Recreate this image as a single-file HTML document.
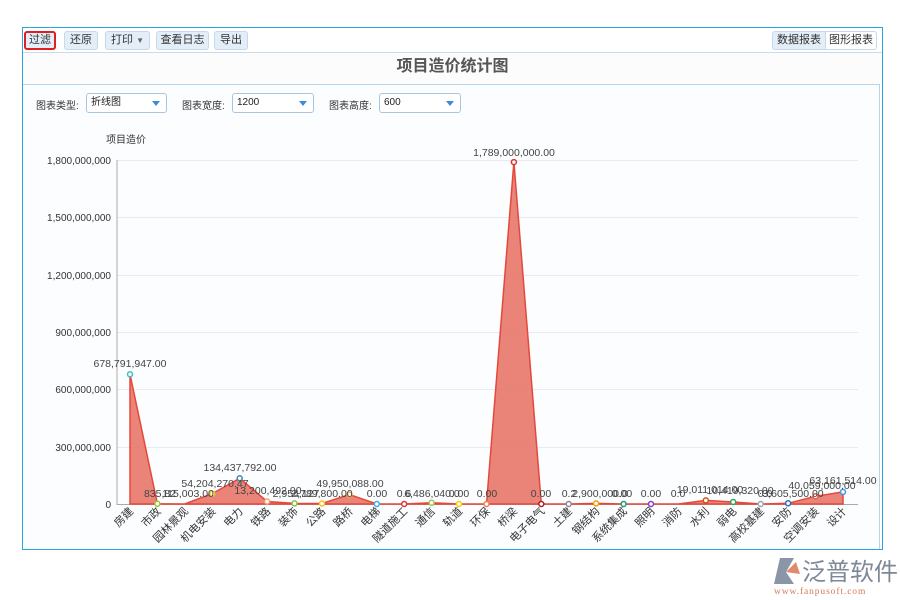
<!DOCTYPE html>
<html><head><meta charset="utf-8"><style>
*{margin:0;padding:0;box-sizing:border-box}
body{width:900px;height:600px;background:#fff;position:relative;font-family:"Liberation Sans","Noto Sans CJK SC",sans-serif;overflow:hidden}
.frame{position:absolute;left:22px;top:27px;width:861px;height:523px;border:1px solid #29a3dc;background:#fff}
.btn{position:absolute;top:31px;height:19px;border:1px solid #c4d9ea;background:#e3eef8;border-radius:3px;font-size:11px;color:#333;text-align:center;line-height:17px}
.tb{position:absolute;left:23px;top:52px;width:859px;height:1px;background:#c7dbea}
.title{position:absolute;left:23px;top:53px;width:859px;height:31px;text-align:center;font-size:16px;font-weight:bold;color:#555;line-height:28px;background:#fcfcfc}
.panel{position:absolute;left:23px;top:84px;width:857px;height:465px;border-top:1px solid #b8d4ea;border-right:1px solid #b8d4ea;background:#fcfdfe}
.lbl{position:absolute;top:97px;font-size:10px;color:#333}
.sel{position:absolute;top:93px;height:20px;border:1px solid #a9c6e0;border-radius:3px;background:#fff;font-size:10px;line-height:18px;padding-left:4px;color:#222}
.sel:after{content:"";position:absolute;right:6px;top:7px;border-left:4px solid transparent;border-right:4px solid transparent;border-top:5px solid #3c8dd6}
</style></head><body>
<div class="frame"></div>
<div class="btn" style="left:24px;width:32px;border:2px solid #e02020;background:#e3eef8;line-height:15px">过滤</div>
<div class="btn" style="left:64px;width:34px">还原</div>
<div class="btn" style="left:105px;width:45px">打印 <span style="font-size:8px;color:#666">▼</span></div>
<div class="btn" style="left:156px;width:53px">查看日志</div>
<div class="btn" style="left:214px;width:34px">导出</div>
<div class="btn" style="left:772px;width:54px;border-radius:3px 0 0 3px">数据报表</div>
<div class="btn" style="left:825px;width:52px;background:#fff;border-radius:0 3px 3px 0">图形报表</div>
<div class="tb"></div>
<div class="title">项目造价统计图</div>
<div class="panel"></div>
<div class="lbl" style="left:36px">图表类型:</div>
<div class="sel" style="left:86px;width:81px">折线图</div>
<div class="lbl" style="left:182px">图表宽度:</div>
<div class="sel" style="left:232px;width:82px">1200</div>
<div class="lbl" style="left:329px">图表高度:</div>
<div class="sel" style="left:379px;width:82px">600</div>
<svg style="position:absolute;left:0;top:0" width="900" height="600" font-family="Liberation Sans,Noto Sans CJK SC,sans-serif">
<g stroke="#e6eaf2" stroke-width="1">
<line x1="117" y1="160.5" x2="858" y2="160.5"/><line x1="117" y1="217.5" x2="858" y2="217.5"/><line x1="117" y1="275.5" x2="858" y2="275.5"/><line x1="117" y1="332.5" x2="858" y2="332.5"/><line x1="117" y1="389.5" x2="858" y2="389.5"/><line x1="117" y1="447.5" x2="858" y2="447.5"/>
</g>
<line x1="117" y1="160" x2="117" y2="505" stroke="#aaa"/>
<line x1="117" y1="504.5" x2="858" y2="504.5" stroke="#aaa"/>
<text x="106" y="143" font-size="10" fill="#333">项目造价</text>
<g font-size="10" fill="#333" text-anchor="end">
<text x="111" y="164">1,800,000,000</text><text x="111" y="221">1,500,000,000</text><text x="111" y="279">1,200,000,000</text><text x="111" y="336">900,000,000</text><text x="111" y="393">600,000,000</text><text x="111" y="451">300,000,000</text><text x="111" y="508">0</text>
</g>
<polygon fill="#e8776a" fill-opacity="0.9" stroke="#e5483a" stroke-width="1.5" points="130,504 130,374.3 157.4,503.8 184.8,504 212.3,493.6 239.7,478.3 267.1,501.5 294.5,503.4 322,503.5 349.4,494.5 376.8,504 404.2,504 431.6,502.8 459,504 486.5,504 513.9,162.1 541.3,504 568.7,504 596.1,503.4 623.6,504 651,504 678.4,504 705.8,500.4 733.2,502 760.7,504 788.1,503.3 815.5,496.3 843,491.9 843,504"/>
<g stroke-width="1.5" fill="#fff">
<circle cx="130" cy="374.3" r="2.5" stroke="#3bbfc9"/><circle cx="157.4" cy="503.8" r="2.5" stroke="#9bc93b"/><circle cx="212.3" cy="493.6" r="2.5" stroke="#f0c419"/><circle cx="239.7" cy="478.3" r="2.5" stroke="#3c8ab0"/><circle cx="267.1" cy="501.5" r="2.5" stroke="#f5a070"/><circle cx="294.5" cy="503.4" r="2.5" stroke="#8cc04a"/><circle cx="322" cy="503.5" r="2.5" stroke="#f2c21b"/><circle cx="349.4" cy="494.5" r="2.5" stroke="#f5b040"/><circle cx="376.8" cy="504" r="2.5" stroke="#3fa9e5"/><circle cx="404.2" cy="504" r="2.5" stroke="#d33"/><circle cx="431.6" cy="502.8" r="2.5" stroke="#a0c84c"/><circle cx="459" cy="504" r="2.5" stroke="#f5d000"/><circle cx="486.5" cy="504" r="2.5" stroke="#f08050"/><circle cx="513.9" cy="162.1" r="2.5" stroke="#d33"/><circle cx="541.3" cy="504" r="2.5" stroke="#a22"/><circle cx="568.7" cy="504" r="2.5" stroke="#889"/><circle cx="596.1" cy="503.4" r="2.5" stroke="#f5a000"/><circle cx="623.6" cy="504" r="2.5" stroke="#1a9a7a"/><circle cx="651" cy="504" r="2.5" stroke="#8a3bc0"/><circle cx="705.8" cy="500.4" r="2.5" stroke="#c8541a"/><circle cx="733.2" cy="502" r="2.5" stroke="#2ca860"/><circle cx="760.7" cy="504" r="2.5" stroke="#9aa"/><circle cx="788.1" cy="503.3" r="2.5" stroke="#2a6fc0"/><circle cx="815.5" cy="496.3" r="2.5" stroke="#e06050"/><circle cx="843" cy="491.9" r="2.5" stroke="#3a9ae8"/>
</g>
<g font-size="10.5" fill="#444" text-anchor="middle">
<text x="130" y="367">678,791,947.00</text><text x="160" y="497">835,82</text><text x="188" y="497">115,003.00</text><text x="215" y="487">54,204,270.47</text><text x="240" y="471">134,437,792.00</text><text x="268" y="494">13,200,492.00</text><text x="296" y="497">2,954,127</text><text x="322" y="497">2,789,800.00</text><text x="350" y="487">49,950,088.00</text><text x="377" y="497">0.00</text><text x="404" y="497">0.6</text><text x="432" y="497">6,486,040.0</text><text x="459" y="497">0.00</text><text x="487" y="497">0.00</text><text x="514" y="156">1,789,000,000.00</text><text x="541" y="497">0.00</text><text x="569" y="497">0.2</text><text x="600" y="497">2,900,000.0</text><text x="622" y="497">0.00</text><text x="651" y="497">0.00</text><text x="678" y="497">0.0</text><text x="710" y="493">19,011,014.00</text><text x="740" y="494">10,419,320.00</text><text x="765" y="497">0.0</text><text x="793" y="497">3,605,500.00</text><text x="822" y="489">40,059,000.00</text><text x="843" y="484">63,161,514.00</text>
</g>
<g font-size="11" fill="#333" text-anchor="end">
<text transform="translate(134,512) rotate(-45)">房建</text><text transform="translate(161.4,512) rotate(-45)">市政</text><text transform="translate(188.8,512) rotate(-45)">园林景观</text><text transform="translate(216.3,512) rotate(-45)">机电安装</text><text transform="translate(243.7,512) rotate(-45)">电力</text><text transform="translate(271.1,512) rotate(-45)">铁路</text><text transform="translate(298.5,512) rotate(-45)">装饰</text><text transform="translate(326,512) rotate(-45)">公路</text><text transform="translate(353.4,512) rotate(-45)">路桥</text><text transform="translate(380.8,512) rotate(-45)">电梯</text><text transform="translate(408.2,512) rotate(-45)">隧道施工</text><text transform="translate(435.6,512) rotate(-45)">通信</text><text transform="translate(463,512) rotate(-45)">轨道</text><text transform="translate(490.5,512) rotate(-45)">环保</text><text transform="translate(517.9,512) rotate(-45)">桥梁</text><text transform="translate(545.3,512) rotate(-45)">电子电气</text><text transform="translate(572.7,512) rotate(-45)">土建</text><text transform="translate(600.1,512) rotate(-45)">钢结构</text><text transform="translate(627.6,512) rotate(-45)">系统集成</text><text transform="translate(655,512) rotate(-45)">照明</text><text transform="translate(682.4,512) rotate(-45)">消防</text><text transform="translate(709.8,512) rotate(-45)">水利</text><text transform="translate(737.2,512) rotate(-45)">弱电</text><text transform="translate(764.7,512) rotate(-45)">高校基建</text><text transform="translate(792.1,512) rotate(-45)">安防</text><text transform="translate(819.5,512) rotate(-45)">空调安装</text><text transform="translate(847,512) rotate(-45)">设计</text>
</g>
<g transform="translate(772,556)">
<path d="M8,2 L22,2 L14,16 L22,28 L2,28 Z" fill="#8a96a8"/><path d="M14,16 L24,6 L28,18 Z" fill="#e08a6a"/>
</g>
<text x="802" y="580" font-size="24" fill="#7d8898" font-family="Noto Sans CJK SC,sans-serif">泛普软件</text>
<text x="774" y="594" font-size="9.5" fill="#d47a5a" font-family="Liberation Serif,serif" letter-spacing="0.9">www.fanpusoft.com</text>
</svg>
</body></html>
